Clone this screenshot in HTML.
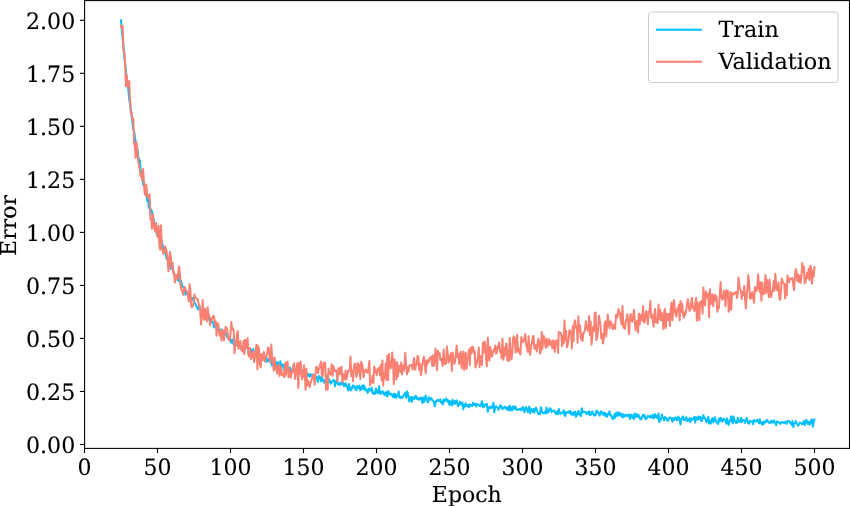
<!DOCTYPE html><html><head><meta charset="utf-8"><title>Train vs Validation Error</title><style>html,body{margin:0;padding:0;background:#fff;}body{width:850px;height:506px;overflow:hidden;}svg{display:block;}text{text-rendering:geometricPrecision;}</style></head><body><svg width="850" height="506" viewBox="0 0 850 506">
<rect width="850" height="506" fill="#fff"/>
<path d="M121.0,20.3 L121.8,30.5 L122.6,38.4 L123.5,46.2 L124.3,56.7 L125.1,63.0 L125.9,70.5 L126.7,81.3 L127.5,82.7 L128.4,90.2 L129.2,99.1 L130.0,104.4 L130.8,109.1 L131.6,116.4 L132.4,122.0 L133.3,129.8 L134.1,131.0 L134.9,137.0 L135.7,141.6 L136.5,149.9 L137.3,148.1 L138.2,155.6 L139.0,161.0 L139.8,160.4 L140.6,168.6 L141.4,175.4 L142.2,177.2 L143.1,184.7 L143.9,181.6 L144.7,188.1 L145.5,192.2 L146.3,191.9 L147.1,200.6 L148.0,199.4 L148.8,207.8 L149.6,208.0 L150.4,212.0 L151.2,209.5 L152.0,211.7 L152.9,218.7 L153.7,219.0 L154.5,223.6 L155.3,224.7 L156.1,229.8 L156.9,234.2 L157.8,236.8 L158.6,234.7 L159.4,233.2 L160.2,239.4 L161.0,243.2 L161.8,240.5 L162.7,245.9 L163.5,248.2 L164.3,249.9 L165.1,252.7 L165.9,255.0 L166.7,259.1 L167.6,257.1 L168.4,260.1 L169.2,259.3 L170.0,264.2 L170.8,269.0 L171.6,267.0 L172.5,265.1 L173.3,270.9 L174.1,273.5 L174.9,275.7 L175.7,276.9 L176.5,276.9 L177.4,280.1 L178.2,276.2 L179.0,281.2 L179.8,281.8 L180.6,280.5 L181.4,281.8 L182.3,286.6 L183.1,286.8 L183.9,287.2 L184.7,290.4 L185.5,294.8 L186.3,291.2 L187.2,291.9 L188.0,294.0 L188.8,297.9 L189.6,297.6 L190.4,299.5 L191.2,300.1 L192.1,297.9 L192.9,298.6 L193.7,301.4 L194.5,302.7 L195.3,303.4 L196.1,305.8 L197.0,307.0 L197.8,309.2 L198.6,308.9 L199.4,305.2 L200.2,309.0 L201.1,312.3 L201.9,313.5 L202.7,315.2 L203.5,313.6 L204.3,314.5 L205.1,319.1 L206.0,316.0 L206.8,319.0 L207.6,315.8 L208.4,319.2 L209.2,316.9 L210.0,322.1 L210.9,322.5 L211.7,322.1 L212.5,321.4 L213.3,323.2 L214.1,327.5 L214.9,325.4 L215.8,326.5 L216.6,328.1 L217.4,329.3 L218.2,325.2 L219.0,330.2 L219.8,331.8 L220.7,329.5 L221.5,331.2 L222.3,332.3 L223.1,331.2 L223.9,332.5 L224.7,333.4 L225.6,332.8 L226.4,334.8 L227.2,337.2 L228.0,337.3 L228.8,338.3 L229.6,337.4 L230.5,340.6 L231.3,342.7 L232.1,339.4 L232.9,342.9 L233.7,344.7 L234.5,340.6 L235.4,343.3 L236.2,341.4 L237.0,344.0 L237.8,345.8 L238.6,346.5 L239.4,345.6 L240.3,345.6 L241.1,347.3 L241.9,346.7 L242.7,349.7 L243.5,347.1 L244.3,351.2 L245.2,348.5 L246.0,347.2 L246.8,346.9 L247.6,346.1 L248.4,353.2 L249.2,349.0 L250.1,348.5 L250.9,349.5 L251.7,353.8 L252.5,351.5 L253.3,349.0 L254.1,356.2 L255.0,352.7 L255.8,351.9 L256.6,355.9 L257.4,353.8 L258.2,357.5 L259.0,357.4 L259.9,357.9 L260.7,356.2 L261.5,357.2 L262.3,355.5 L263.1,359.7 L263.9,358.5 L264.8,356.7 L265.6,357.9 L266.4,362.0 L267.2,358.4 L268.0,361.1 L268.8,359.7 L269.7,360.3 L270.5,358.8 L271.3,361.4 L272.1,365.7 L272.9,365.1 L273.7,361.2 L274.6,363.6 L275.4,361.1 L276.2,363.2 L277.0,365.6 L277.8,362.2 L278.7,366.4 L279.5,369.2 L280.3,361.3 L281.1,369.6 L281.9,364.8 L282.7,364.5 L283.6,366.4 L284.4,370.4 L285.2,365.3 L286.0,370.6 L286.8,370.7 L287.6,369.0 L288.5,367.0 L289.3,368.3 L290.1,367.6 L290.9,370.4 L291.7,370.1 L292.5,372.4 L293.4,371.0 L294.2,369.5 L295.0,371.5 L295.8,370.3 L296.6,372.7 L297.4,373.0 L298.3,372.0 L299.1,372.7 L299.9,371.4 L300.7,372.5 L301.5,369.6 L302.3,373.9 L303.2,374.1 L304.0,376.0 L304.8,374.2 L305.6,373.1 L306.4,376.2 L307.2,375.1 L308.1,373.8 L308.9,375.7 L309.7,376.8 L310.5,374.0 L311.3,376.0 L312.1,375.7 L313.0,374.4 L313.8,374.7 L314.6,377.9 L315.4,378.5 L316.2,377.1 L317.0,378.2 L317.9,382.0 L318.7,375.8 L319.5,378.6 L320.3,377.4 L321.1,381.4 L321.9,376.7 L322.8,380.7 L323.6,380.0 L324.4,382.8 L325.2,380.5 L326.0,380.9 L326.8,381.0 L327.7,379.9 L328.5,380.9 L329.3,379.3 L330.1,382.4 L330.9,383.7 L331.7,381.9 L332.6,380.8 L333.4,379.8 L334.2,380.9 L335.0,386.3 L335.8,382.1 L336.6,380.2 L337.5,383.2 L338.3,384.5 L339.1,383.1 L339.9,384.9 L340.7,382.8 L341.5,384.3 L342.4,381.6 L343.2,383.6 L344.0,386.3 L344.8,383.8 L345.6,383.3 L346.4,386.5 L347.3,386.4 L348.1,390.4 L348.9,384.1 L349.7,387.3 L350.5,390.6 L351.3,390.0 L352.2,387.1 L353.0,385.3 L353.8,387.2 L354.6,386.2 L355.4,389.6 L356.3,390.2 L357.1,385.9 L357.9,386.9 L358.7,388.1 L359.5,385.6 L360.3,390.3 L361.2,389.4 L362.0,386.6 L362.8,385.2 L363.6,389.0 L364.4,385.8 L365.2,390.6 L366.1,388.8 L366.9,390.0 L367.7,393.0 L368.5,389.5 L369.3,388.3 L370.1,390.6 L371.0,390.6 L371.8,387.8 L372.6,393.3 L373.4,393.9 L374.2,392.4 L375.0,393.6 L375.9,388.6 L376.7,390.9 L377.5,393.4 L378.3,393.0 L379.1,386.2 L379.9,393.3 L380.8,393.8 L381.6,391.8 L382.4,391.2 L383.2,392.2 L384.0,394.6 L384.8,395.3 L385.7,391.9 L386.5,393.3 L387.3,396.7 L388.1,391.1 L388.9,392.1 L389.7,394.3 L390.6,394.4 L391.4,393.6 L392.2,395.6 L393.0,397.0 L393.8,393.8 L394.6,397.5 L395.5,393.9 L396.3,397.7 L397.1,395.2 L397.9,395.4 L398.7,391.6 L399.5,397.5 L400.4,398.3 L401.2,396.9 L402.0,398.0 L402.8,397.0 L403.6,395.1 L404.4,394.6 L405.3,392.9 L406.1,397.8 L406.9,391.2 L407.7,392.6 L408.5,397.1 L409.3,401.5 L410.2,397.1 L411.0,396.9 L411.8,401.8 L412.6,397.2 L413.4,397.8 L414.2,399.1 L415.1,396.4 L415.9,395.8 L416.7,398.9 L417.5,397.5 L418.3,399.4 L419.1,399.8 L420.0,398.2 L420.8,397.4 L421.6,399.7 L422.4,403.1 L423.2,397.6 L424.0,402.1 L424.9,398.8 L425.7,395.5 L426.5,399.3 L427.3,401.7 L428.1,402.4 L428.9,397.2 L429.8,399.7 L430.6,398.7 L431.4,398.0 L432.2,400.1 L433.0,400.7 L433.9,402.1 L434.7,406.5 L435.5,403.4 L436.3,400.6 L437.1,400.9 L437.9,399.9 L438.8,401.0 L439.6,400.6 L440.4,399.4 L441.2,402.9 L442.0,401.8 L442.8,404.5 L443.7,399.4 L444.5,401.4 L445.3,400.6 L446.1,398.6 L446.9,399.6 L447.7,402.0 L448.6,400.4 L449.4,404.9 L450.2,401.3 L451.0,402.0 L451.8,405.6 L452.6,399.7 L453.5,404.0 L454.3,401.3 L455.1,403.6 L455.9,400.8 L456.7,400.3 L457.5,404.7 L458.4,406.2 L459.2,403.4 L460.0,401.6 L460.8,404.1 L461.6,404.7 L462.4,402.5 L463.3,409.2 L464.1,405.0 L464.9,406.6 L465.7,403.3 L466.5,405.5 L467.3,406.3 L468.2,404.9 L469.0,407.2 L469.8,404.3 L470.6,405.8 L471.4,405.2 L472.2,406.0 L473.1,402.8 L473.9,405.0 L474.7,403.8 L475.5,403.9 L476.3,406.6 L477.1,403.9 L478.0,404.4 L478.8,404.6 L479.6,406.1 L480.4,406.3 L481.2,403.9 L482.0,401.2 L482.9,407.3 L483.7,404.6 L484.5,406.5 L485.3,404.3 L486.1,405.1 L486.9,403.9 L487.8,411.7 L488.6,407.4 L489.4,408.3 L490.2,406.6 L491.0,407.9 L491.8,407.8 L492.7,405.2 L493.5,402.8 L494.3,412.4 L495.1,407.4 L495.9,406.2 L496.7,406.9 L497.6,407.7 L498.4,409.8 L499.2,409.1 L500.0,405.8 L500.8,405.1 L501.6,407.2 L502.5,409.1 L503.3,407.3 L504.1,408.1 L504.9,406.6 L505.7,407.5 L506.6,409.1 L507.4,407.5 L508.2,410.3 L509.0,406.4 L509.8,405.7 L510.6,410.5 L511.5,407.4 L512.3,410.3 L513.1,406.2 L513.9,406.6 L514.7,409.0 L515.5,406.6 L516.4,409.5 L517.2,410.0 L518.0,409.9 L518.8,409.1 L519.6,409.6 L520.4,408.7 L521.3,410.3 L522.1,407.6 L522.9,407.1 L523.7,410.2 L524.5,412.2 L525.3,407.9 L526.2,407.1 L527.0,409.8 L527.8,412.2 L528.6,409.1 L529.4,406.6 L530.2,413.5 L531.1,408.9 L531.9,410.5 L532.7,411.7 L533.5,409.0 L534.3,412.7 L535.1,409.5 L536.0,407.6 L536.8,409.9 L537.6,412.1 L538.4,414.0 L539.2,413.0 L540.0,414.2 L540.9,407.3 L541.7,411.1 L542.5,412.8 L543.3,413.4 L544.1,413.0 L544.9,411.5 L545.8,413.5 L546.6,407.6 L547.4,412.6 L548.2,412.7 L549.0,410.5 L549.8,408.3 L550.7,408.6 L551.5,412.3 L552.3,410.9 L553.1,411.2 L553.9,410.4 L554.7,411.1 L555.6,413.5 L556.4,414.2 L557.2,411.4 L558.0,414.2 L558.8,409.1 L559.6,411.8 L560.5,414.0 L561.3,412.7 L562.1,413.1 L562.9,412.4 L563.7,410.3 L564.5,415.2 L565.4,416.1 L566.2,411.7 L567.0,412.8 L567.8,412.1 L568.6,411.6 L569.4,412.9 L570.3,411.0 L571.1,414.5 L571.9,412.6 L572.7,414.5 L573.5,415.1 L574.3,411.7 L575.2,411.8 L576.0,416.9 L576.8,415.3 L577.6,412.5 L578.4,411.0 L579.2,414.5 L580.1,413.6 L580.9,416.2 L581.7,408.3 L582.5,412.5 L583.3,411.7 L584.2,412.2 L585.0,411.7 L585.8,412.4 L586.6,414.3 L587.4,412.2 L588.2,413.6 L589.1,411.2 L589.9,415.3 L590.7,415.0 L591.5,412.6 L592.3,411.4 L593.1,413.8 L594.0,415.5 L594.8,414.4 L595.6,415.2 L596.4,410.4 L597.2,412.5 L598.0,411.8 L598.9,413.8 L599.7,415.6 L600.5,412.1 L601.3,411.2 L602.1,413.4 L602.9,414.7 L603.8,412.5 L604.6,415.5 L605.4,413.2 L606.2,416.3 L607.0,416.8 L607.8,413.8 L608.7,414.3 L609.5,411.2 L610.3,415.6 L611.1,415.1 L611.9,417.4 L612.7,419.0 L613.6,418.8 L614.4,414.3 L615.2,417.7 L616.0,413.1 L616.8,412.5 L617.6,416.0 L618.5,412.2 L619.3,415.1 L620.1,413.3 L620.9,416.1 L621.7,413.7 L622.5,417.6 L623.4,414.5 L624.2,416.7 L625.0,416.1 L625.8,414.6 L626.6,415.6 L627.4,416.1 L628.3,414.6 L629.1,414.4 L629.9,418.9 L630.7,415.0 L631.5,414.8 L632.3,417.8 L633.2,415.5 L634.0,419.0 L634.8,413.5 L635.6,416.9 L636.4,416.6 L637.2,414.1 L638.1,416.8 L638.9,415.4 L639.7,418.7 L640.5,417.8 L641.3,419.5 L642.1,417.2 L643.0,414.7 L643.8,416.4 L644.6,415.1 L645.4,419.0 L646.2,418.7 L647.0,417.9 L647.9,415.9 L648.7,416.3 L649.5,417.1 L650.3,415.9 L651.1,417.5 L651.9,417.3 L652.8,414.6 L653.6,418.5 L654.4,417.0 L655.2,414.1 L656.0,417.2 L656.8,416.0 L657.7,418.7 L658.5,413.6 L659.3,422.1 L660.1,419.9 L660.9,419.8 L661.8,414.4 L662.6,417.0 L663.4,418.3 L664.2,420.4 L665.0,417.1 L665.8,417.6 L666.7,419.3 L667.5,420.9 L668.3,420.2 L669.1,417.6 L669.9,417.4 L670.7,417.9 L671.6,418.4 L672.4,421.7 L673.2,418.1 L674.0,420.3 L674.8,418.2 L675.6,417.4 L676.5,419.7 L677.3,420.4 L678.1,416.4 L678.9,417.7 L679.7,419.8 L680.5,424.6 L681.4,418.7 L682.2,417.3 L683.0,416.4 L683.8,420.0 L684.6,420.0 L685.4,419.6 L686.3,417.1 L687.1,421.2 L687.9,419.1 L688.7,420.7 L689.5,418.4 L690.3,422.1 L691.2,418.2 L692.0,420.0 L692.8,419.5 L693.6,418.0 L694.4,416.8 L695.2,422.6 L696.1,417.2 L696.9,418.1 L697.7,419.8 L698.5,416.5 L699.3,418.9 L700.1,416.7 L701.0,420.6 L701.8,421.2 L702.6,417.0 L703.4,415.1 L704.2,418.2 L705.0,417.8 L705.9,420.5 L706.7,422.3 L707.5,420.1 L708.3,416.7 L709.1,423.5 L709.9,420.7 L710.8,423.6 L711.6,419.6 L712.4,418.1 L713.2,422.4 L714.0,420.7 L714.8,417.3 L715.7,420.1 L716.5,422.5 L717.3,422.7 L718.1,424.1 L718.9,418.5 L719.7,421.6 L720.6,418.0 L721.4,418.4 L722.2,421.5 L723.0,421.3 L723.8,418.7 L724.6,420.0 L725.5,419.8 L726.3,423.7 L727.1,418.6 L727.9,422.2 L728.7,425.0 L729.5,421.7 L730.4,419.7 L731.2,416.3 L732.0,421.3 L732.8,423.3 L733.6,416.4 L734.4,420.4 L735.3,421.2 L736.1,422.9 L736.9,422.8 L737.7,417.8 L738.5,421.4 L739.4,421.9 L740.2,421.9 L741.0,417.8 L741.8,422.1 L742.6,419.7 L743.4,420.5 L744.3,420.5 L745.1,422.8 L745.9,419.8 L746.7,417.9 L747.5,421.3 L748.3,423.0 L749.2,423.8 L750.0,420.8 L750.8,421.8 L751.6,421.5 L752.4,421.3 L753.2,424.3 L754.1,419.8 L754.9,420.9 L755.7,421.6 L756.5,421.0 L757.3,419.6 L758.1,421.4 L759.0,423.3 L759.8,419.2 L760.6,422.5 L761.4,423.1 L762.2,424.8 L763.0,421.7 L763.9,423.8 L764.7,422.8 L765.5,420.9 L766.3,421.7 L767.1,419.8 L767.9,421.2 L768.8,422.7 L769.6,422.6 L770.4,422.9 L771.2,420.7 L772.0,421.9 L772.8,422.8 L773.7,420.3 L774.5,421.9 L775.3,423.0 L776.1,425.2 L776.9,421.3 L777.7,421.7 L778.6,422.1 L779.4,423.1 L780.2,423.9 L781.0,422.7 L781.8,421.8 L782.6,422.6 L783.5,422.6 L784.3,423.3 L785.1,421.7 L785.9,422.0 L786.7,424.0 L787.5,420.9 L788.4,420.9 L789.2,420.9 L790.0,422.8 L790.8,423.0 L791.6,424.9 L792.4,421.1 L793.3,427.0 L794.1,423.5 L794.9,423.4 L795.7,421.0 L796.5,422.8 L797.3,424.7 L798.2,425.7 L799.0,424.3 L799.8,422.6 L800.6,422.8 L801.4,423.3 L802.2,424.3 L803.1,423.4 L803.9,421.0 L804.7,425.2 L805.5,423.0 L806.3,419.8 L807.1,422.0 L808.0,424.0 L808.8,421.8 L809.6,424.7 L810.4,423.2 L811.2,420.1 L812.0,419.4 L812.9,426.7 L813.7,421.9 L814.5,419.4" fill="none" stroke="#00bfff" stroke-width="2.0" stroke-linejoin="round" stroke-linecap="square"/>
<path d="M121.0,25.6 L121.8,28.8 L122.6,25.7 L123.5,51.1 L124.3,51.4 L125.1,63.5 L125.9,86.4 L126.7,74.9 L127.5,86.2 L128.4,83.8 L129.2,80.9 L130.0,98.5 L130.8,113.1 L131.6,112.2 L132.4,119.9 L133.3,118.6 L134.1,143.8 L134.9,146.6 L135.7,158.0 L136.5,142.0 L137.3,151.6 L138.2,161.0 L139.0,166.0 L139.8,169.0 L140.6,175.9 L141.4,175.0 L142.2,180.2 L143.1,169.1 L143.9,181.2 L144.7,193.7 L145.5,195.3 L146.3,184.6 L147.1,193.8 L148.0,198.2 L148.8,198.0 L149.6,194.3 L150.4,219.0 L151.2,218.2 L152.0,228.8 L152.9,214.2 L153.7,223.6 L154.5,228.5 L155.3,231.7 L156.1,223.0 L156.9,231.9 L157.8,237.2 L158.6,225.8 L159.4,245.8 L160.2,249.7 L161.0,225.2 L161.8,247.1 L162.7,250.6 L163.5,254.0 L164.3,251.5 L165.1,246.5 L165.9,248.6 L166.7,252.1 L167.6,260.2 L168.4,271.2 L169.2,259.5 L170.0,251.9 L170.8,257.0 L171.6,268.1 L172.5,262.4 L173.3,273.0 L174.1,272.1 L174.9,282.6 L175.7,277.2 L176.5,275.2 L177.4,279.0 L178.2,273.4 L179.0,266.5 L179.8,272.1 L180.6,285.7 L181.4,290.3 L182.3,291.0 L183.1,294.8 L183.9,288.5 L184.7,286.8 L185.5,289.9 L186.3,291.0 L187.2,292.5 L188.0,295.9 L188.8,301.6 L189.6,284.3 L190.4,290.5 L191.2,306.2 L192.1,307.3 L192.9,306.0 L193.7,302.5 L194.5,294.4 L195.3,297.2 L196.1,297.9 L197.0,298.7 L197.8,299.6 L198.6,303.3 L199.4,306.4 L200.2,311.6 L201.1,324.6 L201.9,313.5 L202.7,300.1 L203.5,318.4 L204.3,319.9 L205.1,308.6 L206.0,316.4 L206.8,321.4 L207.6,307.2 L208.4,314.9 L209.2,314.8 L210.0,325.3 L210.9,318.3 L211.7,320.0 L212.5,317.8 L213.3,315.8 L214.1,316.7 L214.9,324.5 L215.8,321.5 L216.6,335.7 L217.4,323.2 L218.2,323.7 L219.0,332.3 L219.8,335.8 L220.7,331.2 L221.5,340.4 L222.3,329.6 L223.1,330.6 L223.9,340.4 L224.7,333.7 L225.6,326.9 L226.4,327.6 L227.2,328.6 L228.0,337.7 L228.8,339.7 L229.6,340.7 L230.5,334.1 L231.3,322.0 L232.1,329.3 L232.9,328.5 L233.7,330.8 L234.5,353.1 L235.4,343.3 L236.2,345.6 L237.0,333.8 L237.8,331.1 L238.6,348.9 L239.4,344.3 L240.3,341.0 L241.1,349.2 L241.9,350.7 L242.7,351.6 L243.5,340.7 L244.3,354.3 L245.2,339.8 L246.0,348.0 L246.8,343.6 L247.6,338.3 L248.4,354.9 L249.2,356.5 L250.1,347.9 L250.9,359.0 L251.7,357.2 L252.5,353.2 L253.3,351.6 L254.1,362.3 L255.0,356.5 L255.8,349.9 L256.6,344.7 L257.4,369.3 L258.2,345.9 L259.0,349.4 L259.9,364.1 L260.7,367.3 L261.5,354.0 L262.3,360.5 L263.1,356.8 L263.9,352.0 L264.8,361.3 L265.6,357.8 L266.4,355.9 L267.2,353.3 L268.0,347.4 L268.8,348.2 L269.7,359.1 L270.5,363.0 L271.3,344.6 L272.1,357.3 L272.9,359.2 L273.7,370.7 L274.6,357.4 L275.4,369.0 L276.2,367.0 L277.0,373.7 L277.8,368.2 L278.7,364.3 L279.5,375.9 L280.3,371.9 L281.1,366.3 L281.9,375.2 L282.7,375.5 L283.6,372.7 L284.4,377.2 L285.2,362.9 L286.0,374.8 L286.8,362.4 L287.6,361.6 L288.5,377.2 L289.3,368.6 L290.1,372.6 L290.9,377.7 L291.7,372.2 L292.5,371.8 L293.4,365.2 L294.2,363.2 L295.0,378.9 L295.8,374.2 L296.6,367.7 L297.4,363.3 L298.3,388.0 L299.1,363.1 L299.9,373.8 L300.7,361.8 L301.5,376.2 L302.3,379.4 L303.2,373.4 L304.0,365.3 L304.8,373.6 L305.6,389.8 L306.4,368.9 L307.2,385.6 L308.1,381.0 L308.9,382.3 L309.7,387.3 L310.5,383.0 L311.3,381.1 L312.1,378.4 L313.0,374.4 L313.8,376.4 L314.6,384.7 L315.4,375.3 L316.2,366.9 L317.0,367.1 L317.9,373.0 L318.7,369.5 L319.5,367.5 L320.3,364.1 L321.1,361.6 L321.9,376.3 L322.8,375.9 L323.6,363.2 L324.4,362.6 L325.2,362.7 L326.0,389.8 L326.8,375.4 L327.7,389.7 L328.5,368.5 L329.3,373.4 L330.1,373.3 L330.9,374.7 L331.7,364.2 L332.6,375.8 L333.4,366.1 L334.2,369.6 L335.0,370.9 L335.8,370.1 L336.6,372.7 L337.5,381.4 L338.3,368.2 L339.1,368.2 L339.9,374.3 L340.7,368.0 L341.5,366.7 L342.4,382.5 L343.2,374.1 L344.0,376.3 L344.8,379.6 L345.6,370.6 L346.4,379.0 L347.3,376.0 L348.1,371.0 L348.9,370.2 L349.7,370.4 L350.5,356.4 L351.3,376.2 L352.2,370.7 L353.0,381.2 L353.8,368.9 L354.6,364.0 L355.4,363.5 L356.3,376.8 L357.1,374.2 L357.9,362.9 L358.7,372.7 L359.5,365.0 L360.3,378.9 L361.2,361.8 L362.0,364.3 L362.8,368.3 L363.6,377.4 L364.4,372.6 L365.2,370.3 L366.1,369.4 L366.9,372.0 L367.7,372.8 L368.5,369.7 L369.3,360.9 L370.1,385.5 L371.0,380.8 L371.8,382.0 L372.6,375.7 L373.4,383.2 L374.2,366.5 L375.0,369.7 L375.9,372.2 L376.7,375.2 L377.5,369.0 L378.3,368.8 L379.1,367.6 L379.9,375.2 L380.8,365.1 L381.6,380.4 L382.4,360.5 L383.2,385.4 L384.0,373.7 L384.8,378.0 L385.7,363.5 L386.5,379.9 L387.3,355.8 L388.1,380.1 L388.9,354.1 L389.7,365.5 L390.6,368.4 L391.4,365.4 L392.2,352.5 L393.0,361.8 L393.8,384.1 L394.6,359.4 L395.5,366.3 L396.3,379.6 L397.1,362.3 L397.9,376.5 L398.7,366.2 L399.5,365.8 L400.4,372.0 L401.2,362.5 L402.0,374.5 L402.8,365.6 L403.6,370.9 L404.4,368.1 L405.3,352.7 L406.1,365.7 L406.9,374.3 L407.7,367.2 L408.5,371.8 L409.3,365.9 L410.2,364.8 L411.0,365.2 L411.8,365.1 L412.6,369.6 L413.4,362.2 L414.2,357.7 L415.1,369.8 L415.9,365.5 L416.7,364.6 L417.5,355.8 L418.3,356.9 L419.1,369.9 L420.0,364.0 L420.8,375.2 L421.6,371.3 L422.4,364.0 L423.2,359.4 L424.0,356.9 L424.9,366.0 L425.7,373.4 L426.5,360.6 L427.3,364.6 L428.1,360.1 L428.9,361.9 L429.8,357.8 L430.6,358.1 L431.4,356.6 L432.2,365.9 L433.0,355.2 L433.9,366.0 L434.7,361.6 L435.5,348.5 L436.3,359.3 L437.1,370.2 L437.9,350.8 L438.8,354.2 L439.6,353.1 L440.4,359.8 L441.2,358.6 L442.0,362.6 L442.8,365.9 L443.7,349.5 L444.5,363.2 L445.3,363.9 L446.1,363.5 L446.9,346.6 L447.7,353.6 L448.6,362.5 L449.4,360.0 L450.2,355.8 L451.0,353.0 L451.8,371.0 L452.6,352.5 L453.5,360.6 L454.3,363.8 L455.1,361.5 L455.9,352.8 L456.7,345.6 L457.5,357.2 L458.4,354.0 L459.2,363.9 L460.0,354.2 L460.8,351.7 L461.6,368.3 L462.4,361.1 L463.3,351.4 L464.1,369.9 L464.9,359.6 L465.7,352.4 L466.5,368.9 L467.3,359.3 L468.2,355.9 L469.0,349.7 L469.8,365.3 L470.6,347.8 L471.4,353.5 L472.2,346.8 L473.1,346.9 L473.9,352.8 L474.7,351.5 L475.5,367.6 L476.3,364.6 L477.1,361.9 L478.0,357.0 L478.8,347.5 L479.6,367.1 L480.4,356.3 L481.2,363.5 L482.0,365.0 L482.9,342.8 L483.7,352.6 L484.5,341.3 L485.3,344.4 L486.1,359.6 L486.9,366.3 L487.8,337.5 L488.6,355.4 L489.4,360.6 L490.2,347.0 L491.0,350.9 L491.8,356.7 L492.7,354.1 L493.5,350.3 L494.3,350.7 L495.1,345.6 L495.9,353.5 L496.7,353.3 L497.6,346.2 L498.4,348.2 L499.2,342.3 L500.0,352.0 L500.8,350.7 L501.6,358.2 L502.5,338.7 L503.3,359.7 L504.1,347.8 L504.9,355.7 L505.7,346.5 L506.6,343.4 L507.4,360.6 L508.2,350.0 L509.0,361.1 L509.8,337.9 L510.6,351.2 L511.5,359.3 L512.3,352.8 L513.1,337.9 L513.9,336.4 L514.7,337.9 L515.5,352.7 L516.4,347.9 L517.2,334.7 L518.0,351.8 L518.8,348.7 L519.6,353.1 L520.4,354.5 L521.3,337.0 L522.1,341.0 L522.9,342.2 L523.7,341.0 L524.5,337.6 L525.3,333.9 L526.2,344.8 L527.0,347.1 L527.8,351.9 L528.6,336.3 L529.4,347.8 L530.2,354.8 L531.1,345.7 L531.9,343.4 L532.7,337.3 L533.5,335.8 L534.3,348.4 L535.1,348.7 L536.0,345.1 L536.8,351.4 L537.6,343.1 L538.4,338.8 L539.2,341.6 L540.0,353.6 L540.9,350.3 L541.7,332.0 L542.5,348.7 L543.3,335.7 L544.1,336.3 L544.9,343.1 L545.8,347.8 L546.6,338.8 L547.4,346.7 L548.2,341.3 L549.0,339.1 L549.8,344.9 L550.7,341.1 L551.5,341.6 L552.3,348.2 L553.1,340.3 L553.9,343.4 L554.7,351.9 L555.6,340.9 L556.4,340.3 L557.2,342.5 L558.0,353.0 L558.8,332.0 L559.6,332.5 L560.5,332.5 L561.3,334.7 L562.1,346.2 L562.9,335.9 L563.7,343.4 L564.5,320.4 L565.4,340.0 L566.2,331.1 L567.0,347.2 L567.8,344.3 L568.6,339.4 L569.4,330.1 L570.3,331.1 L571.1,332.8 L571.9,348.4 L572.7,326.3 L573.5,341.2 L574.3,322.3 L575.2,320.3 L576.0,327.8 L576.8,326.4 L577.6,342.7 L578.4,316.3 L579.2,331.5 L580.1,325.6 L580.9,339.0 L581.7,333.0 L582.5,341.1 L583.3,333.9 L584.2,331.9 L585.0,329.9 L585.8,321.3 L586.6,327.9 L587.4,329.4 L588.2,330.8 L589.1,316.1 L589.9,334.9 L590.7,321.7 L591.5,344.7 L592.3,336.5 L593.1,326.9 L594.0,330.9 L594.8,312.6 L595.6,312.4 L596.4,340.3 L597.2,336.8 L598.0,329.8 L598.9,315.8 L599.7,320.0 L600.5,325.8 L601.3,338.4 L602.1,334.0 L602.9,343.5 L603.8,338.7 L604.6,324.1 L605.4,321.2 L606.2,336.4 L607.0,325.9 L607.8,314.5 L608.7,325.1 L609.5,328.3 L610.3,321.4 L611.1,321.8 L611.9,324.9 L612.7,329.2 L613.6,328.2 L614.4,324.3 L615.2,328.8 L616.0,314.7 L616.8,317.8 L617.6,316.1 L618.5,309.0 L619.3,312.1 L620.1,313.1 L620.9,320.6 L621.7,324.6 L622.5,306.1 L623.4,327.8 L624.2,327.2 L625.0,328.8 L625.8,320.6 L626.6,318.9 L627.4,314.2 L628.3,323.3 L629.1,334.2 L629.9,318.9 L630.7,313.9 L631.5,320.6 L632.3,321.6 L633.2,316.3 L634.0,309.7 L634.8,320.6 L635.6,330.4 L636.4,323.9 L637.2,320.7 L638.1,332.6 L638.9,313.4 L639.7,324.6 L640.5,315.0 L641.3,317.1 L642.1,320.6 L643.0,306.1 L643.8,322.1 L644.6,322.7 L645.4,315.4 L646.2,311.1 L647.0,317.2 L647.9,324.2 L648.7,311.6 L649.5,312.1 L650.3,301.0 L651.1,317.8 L651.9,314.4 L652.8,320.0 L653.6,326.6 L654.4,314.8 L655.2,308.9 L656.0,322.5 L656.8,319.8 L657.7,323.3 L658.5,304.5 L659.3,318.9 L660.1,309.7 L660.9,320.2 L661.8,313.0 L662.6,318.0 L663.4,329.1 L664.2,312.4 L665.0,308.9 L665.8,328.0 L666.7,313.7 L667.5,315.4 L668.3,320.0 L669.1,313.7 L669.9,325.9 L670.7,309.5 L671.6,302.4 L672.4,320.3 L673.2,311.3 L674.0,300.0 L674.8,309.5 L675.6,314.0 L676.5,316.7 L677.3,308.5 L678.1,310.6 L678.9,304.7 L679.7,320.4 L680.5,301.0 L681.4,311.8 L682.2,303.8 L683.0,313.7 L683.8,317.8 L684.6,312.2 L685.4,314.8 L686.3,310.3 L687.1,302.6 L687.9,299.2 L688.7,305.4 L689.5,310.8 L690.3,309.9 L691.2,302.0 L692.0,297.7 L692.8,308.3 L693.6,306.7 L694.4,311.1 L695.2,303.8 L696.1,298.0 L696.9,320.8 L697.7,302.8 L698.5,308.6 L699.3,320.2 L700.1,301.8 L701.0,304.6 L701.8,301.0 L702.6,313.6 L703.4,287.4 L704.2,302.3 L705.0,305.4 L705.9,291.4 L706.7,297.6 L707.5,296.1 L708.3,293.4 L709.1,317.3 L709.9,289.2 L710.8,304.0 L711.6,299.1 L712.4,294.2 L713.2,306.1 L714.0,298.3 L714.8,294.7 L715.7,300.5 L716.5,296.3 L717.3,311.7 L718.1,308.5 L718.9,307.9 L719.7,296.4 L720.6,282.0 L721.4,296.8 L722.2,299.7 L723.0,298.8 L723.8,290.8 L724.6,292.6 L725.5,306.3 L726.3,290.0 L727.1,297.5 L727.9,291.0 L728.7,311.8 L729.5,308.3 L730.4,292.1 L731.2,309.7 L732.0,293.2 L732.8,293.4 L733.6,294.6 L734.4,292.8 L735.3,293.3 L736.1,291.7 L736.9,297.9 L737.7,294.8 L738.5,277.5 L739.4,285.7 L740.2,289.5 L741.0,290.9 L741.8,299.0 L742.6,291.7 L743.4,295.0 L744.3,285.9 L745.1,299.6 L745.9,308.5 L746.7,296.5 L747.5,286.9 L748.3,275.0 L749.2,284.1 L750.0,298.8 L750.8,292.9 L751.6,298.2 L752.4,292.3 L753.2,297.4 L754.1,302.7 L754.9,286.9 L755.7,288.6 L756.5,291.1 L757.3,287.0 L758.1,274.2 L759.0,288.3 L759.8,291.8 L760.6,282.3 L761.4,300.8 L762.2,282.7 L763.0,293.9 L763.9,294.1 L764.7,286.9 L765.5,275.0 L766.3,292.9 L767.1,280.0 L767.9,284.1 L768.8,297.1 L769.6,279.6 L770.4,292.4 L771.2,297.1 L772.0,291.8 L772.8,291.1 L773.7,281.0 L774.5,290.7 L775.3,273.8 L776.1,283.1 L776.9,290.0 L777.7,290.6 L778.6,282.5 L779.4,299.1 L780.2,299.6 L781.0,290.2 L781.8,278.6 L782.6,281.8 L783.5,282.7 L784.3,284.3 L785.1,298.4 L785.9,284.7 L786.7,295.3 L787.5,275.6 L788.4,281.7 L789.2,282.1 L790.0,278.2 L790.8,278.6 L791.6,279.0 L792.4,278.0 L793.3,284.8 L794.1,290.1 L794.9,277.4 L795.7,268.9 L796.5,271.9 L797.3,280.9 L798.2,274.5 L799.0,282.2 L799.8,275.8 L800.6,283.0 L801.4,277.2 L802.2,263.0 L803.1,272.0 L803.9,266.4 L804.7,283.2 L805.5,282.3 L806.3,277.3 L807.1,272.6 L808.0,278.1 L808.8,268.7 L809.6,280.2 L810.4,265.7 L811.2,268.4 L812.0,283.8 L812.9,270.9 L813.7,276.7 L814.5,267.2" fill="none" stroke="#fa8072" stroke-width="2.0" stroke-linejoin="round" stroke-linecap="square"/>
<rect x="84.6" y="0.6" width="764.9" height="447.79999999999995" fill="none" stroke="#000" stroke-width="1.08"/>
<g font-family="'DejaVu Serif', 'Liberation Serif', serif" fill="#000" stroke="#000" stroke-width="0.12"><line x1="84.50" y1="448.4" x2="84.50" y2="453.09999999999997" stroke="#000" stroke-width="1.1"/><text transform="translate(84.50,475.10) scale(1,1.02)" text-anchor="middle" font-size="22">0</text><line x1="157.50" y1="448.4" x2="157.50" y2="453.09999999999997" stroke="#000" stroke-width="1.1"/><text transform="translate(157.50,475.10) scale(1,1.02)" text-anchor="middle" font-size="22">50</text><line x1="230.50" y1="448.4" x2="230.50" y2="453.09999999999997" stroke="#000" stroke-width="1.1"/><text transform="translate(230.50,475.10) scale(1,1.02)" text-anchor="middle" font-size="22">100</text><line x1="303.50" y1="448.4" x2="303.50" y2="453.09999999999997" stroke="#000" stroke-width="1.1"/><text transform="translate(303.50,475.10) scale(1,1.02)" text-anchor="middle" font-size="22">150</text><line x1="376.50" y1="448.4" x2="376.50" y2="453.09999999999997" stroke="#000" stroke-width="1.1"/><text transform="translate(376.50,475.10) scale(1,1.02)" text-anchor="middle" font-size="22">200</text><line x1="449.50" y1="448.4" x2="449.50" y2="453.09999999999997" stroke="#000" stroke-width="1.1"/><text transform="translate(449.50,475.10) scale(1,1.02)" text-anchor="middle" font-size="22">250</text><line x1="522.50" y1="448.4" x2="522.50" y2="453.09999999999997" stroke="#000" stroke-width="1.1"/><text transform="translate(522.50,475.10) scale(1,1.02)" text-anchor="middle" font-size="22">300</text><line x1="595.50" y1="448.4" x2="595.50" y2="453.09999999999997" stroke="#000" stroke-width="1.1"/><text transform="translate(595.50,475.10) scale(1,1.02)" text-anchor="middle" font-size="22">350</text><line x1="668.50" y1="448.4" x2="668.50" y2="453.09999999999997" stroke="#000" stroke-width="1.1"/><text transform="translate(668.50,475.10) scale(1,1.02)" text-anchor="middle" font-size="22">400</text><line x1="741.50" y1="448.4" x2="741.50" y2="453.09999999999997" stroke="#000" stroke-width="1.1"/><text transform="translate(741.50,475.10) scale(1,1.02)" text-anchor="middle" font-size="22">450</text><line x1="814.50" y1="448.4" x2="814.50" y2="453.09999999999997" stroke="#000" stroke-width="1.1"/><text transform="translate(814.50,475.10) scale(1,1.02)" text-anchor="middle" font-size="22">500</text><line x1="79.89999999999999" y1="444.50" x2="84.6" y2="444.50" stroke="#000" stroke-width="1.1"/><text transform="translate(75.20,453.30) scale(1,1.02)" text-anchor="end" font-size="22.1">0.00</text><line x1="79.89999999999999" y1="391.48" x2="84.6" y2="391.48" stroke="#000" stroke-width="1.1"/><text transform="translate(75.20,400.28) scale(1,1.02)" text-anchor="end" font-size="22.1">0.25</text><line x1="79.89999999999999" y1="338.45" x2="84.6" y2="338.45" stroke="#000" stroke-width="1.1"/><text transform="translate(75.20,347.25) scale(1,1.02)" text-anchor="end" font-size="22.1">0.50</text><line x1="79.89999999999999" y1="285.43" x2="84.6" y2="285.43" stroke="#000" stroke-width="1.1"/><text transform="translate(75.20,294.23) scale(1,1.02)" text-anchor="end" font-size="22.1">0.75</text><line x1="79.89999999999999" y1="232.40" x2="84.6" y2="232.40" stroke="#000" stroke-width="1.1"/><text transform="translate(75.20,241.20) scale(1,1.02)" text-anchor="end" font-size="22.1">1.00</text><line x1="79.89999999999999" y1="179.38" x2="84.6" y2="179.38" stroke="#000" stroke-width="1.1"/><text transform="translate(75.20,188.18) scale(1,1.02)" text-anchor="end" font-size="22.1">1.25</text><line x1="79.89999999999999" y1="126.35" x2="84.6" y2="126.35" stroke="#000" stroke-width="1.1"/><text transform="translate(75.20,135.15) scale(1,1.02)" text-anchor="end" font-size="22.1">1.50</text><line x1="79.89999999999999" y1="73.32" x2="84.6" y2="73.32" stroke="#000" stroke-width="1.1"/><text transform="translate(75.20,82.12) scale(1,1.02)" text-anchor="end" font-size="22.1">1.75</text><line x1="79.89999999999999" y1="20.30" x2="84.6" y2="20.30" stroke="#000" stroke-width="1.1"/><text transform="translate(75.20,29.10) scale(1,1.02)" text-anchor="end" font-size="22.1">2.00</text>
<text x="466.8" y="502" text-anchor="middle" font-size="22">Epoch</text>
<text transform="translate(16,225.5) rotate(-90)" text-anchor="middle" font-size="22">Error</text>
<rect x="648.5" y="12" width="189.5" height="70.5" rx="3" ry="3" fill="#fff" fill-opacity="0.8" stroke="#ccc" stroke-width="1"/>
<line x1="656" y1="29.8" x2="702" y2="29.8" stroke="#00bfff" stroke-width="2"/>
<line x1="656" y1="61.8" x2="702" y2="61.8" stroke="#fa7c6e" stroke-width="1.9"/>
<text x="718.5" y="36.8" font-size="22.3">Train</text>
<text x="718.5" y="68.8" font-size="22.3">Validation</text>
</g></svg></body></html>
